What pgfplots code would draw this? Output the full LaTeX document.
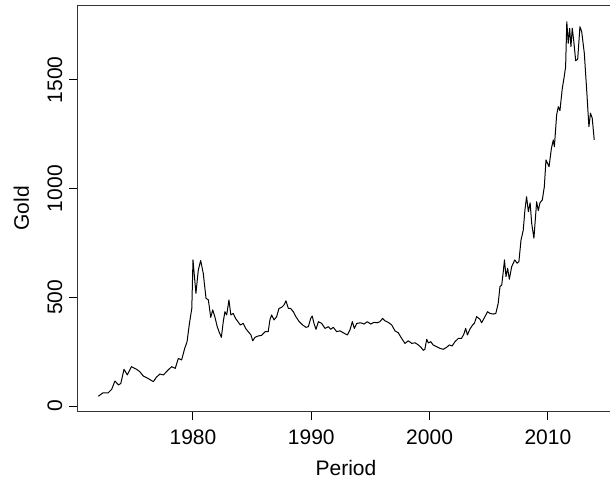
\documentclass[border=0pt]{standalone}
\usepackage{pgfplots}
\pgfplotsset{compat=1.18}
\usepackage{fontspec}
\setmainfont{Liberation Sans}
\pgfplotstableread{
year value
1972.00 45
1972.40 61
1972.84 61
1973.13 77
1973.40 115
1973.70 97
1973.90 104
1974.17 169
1974.45 143
1974.80 181
1975.20 170
1975.50 158
1975.80 138
1976.20 127
1976.65 112
1976.90 132
1977.20 147
1977.50 143
1977.90 166
1978.20 181
1978.50 173
1978.76 219
1979.04 212
1979.30 265
1979.50 296
1979.70 380
1979.90 449
1980.00 672
1980.10 610
1980.25 518
1980.45 626
1980.65 669
1980.87 610
1981.10 496
1981.30 488
1981.50 408
1981.67 442
1981.86 408
1982.05 365
1982.20 342
1982.40 316
1982.56 388
1982.70 434
1982.85 419
1983.04 488
1983.20 419
1983.40 426
1983.60 403
1983.80 388
1984.00 373
1984.25 380
1984.45 357
1984.67 342
1984.90 327
1985.05 300
1985.24 316
1985.50 322
1985.80 325
1986.10 342
1986.36 342
1986.50 396
1986.65 419
1986.85 396
1987.07 411
1987.27 449
1987.50 454
1987.70 465
1987.86 484
1988.06 449
1988.25 449
1988.48 434
1988.70 411
1988.98 388
1989.27 373
1989.55 362
1989.75 365
1989.95 403
1990.08 414
1990.23 380
1990.40 353
1990.60 388
1990.88 380
1991.16 357
1991.44 365
1991.64 353
1991.86 362
1992.15 342
1992.43 346
1992.70 337
1993.05 327
1993.27 350
1993.47 388
1993.64 357
1993.84 380
1994.18 383
1994.46 377
1994.74 388
1995.02 377
1995.30 385
1995.58 383
1995.80 388
1996.03 403
1996.23 392
1996.50 385
1996.80 373
1997.07 346
1997.35 337
1997.64 311
1997.92 288
1998.20 300
1998.50 288
1998.77 291
1999.05 281
1999.27 270
1999.47 256
1999.60 261
1999.76 307
1999.90 290
2000.10 296
2000.30 281
2000.60 273
2000.88 265
2001.16 261
2001.44 270
2001.67 281
2001.90 276
2002.15 296
2002.43 311
2002.70 311
2002.90 331
2003.05 357
2003.20 327
2003.40 353
2003.64 373
2003.78 380
2003.98 411
2004.26 399
2004.40 383
2004.68 411
2004.90 434
2005.10 426
2005.38 423
2005.60 426
2005.80 472
2005.95 549
2006.10 557
2006.23 618
2006.33 672
2006.46 595
2006.60 634
2006.74 583
2006.94 641
2007.20 672
2007.40 657
2007.55 664
2007.73 764
2007.82 785
2007.92 810
2008.06 902
2008.20 963
2008.35 894
2008.50 935
2008.63 841
2008.82 772
2009.05 940
2009.19 899
2009.33 935
2009.53 948
2009.70 1009
2009.84 1132
2010.10 1101
2010.30 1186
2010.46 1224
2010.55 1193
2010.74 1339
2010.88 1377
2011.02 1359
2011.22 1462
2011.38 1515
2011.50 1561
2011.60 1768
2011.72 1669
2011.84 1738
2011.95 1653
2012.06 1738
2012.18 1684
2012.35 1589
2012.52 1595
2012.71 1745
2012.86 1722
2013.08 1623
2013.28 1454
2013.47 1285
2013.60 1347
2013.75 1324
2013.92 1224
}\gold
\begin{document}
\begin{tikzpicture}[font=\fontsize{10.5}{12.6}\selectfont]
\useasboundingbox (-39pt,-33.5pt) rectangle (266pt,205.5pt);
\begin{axis}[
  at={(0,0)}, anchor=south west,
  scale only axis,
  width=268pt, height=202.75pt,
  xmin=1970.28, xmax=2015.59,
  ymin=-23, ymax=1842.7,
  xtick={1980,1990,2000,2010},
  ytick={0,500,1000,1500},
  tick align=outside,
  xtick pos=bottom, ytick pos=left,
  major tick length=4.5pt,
  tick style={black, line width=0.5pt},
  axis line style={line width=0.5pt, black!80},
  /pgf/number format/assume math mode=true,
  /pgf/number format/1000 sep={},
  xticklabel style={anchor=base, yshift=-12pt},
  yticklabel style={xshift=-3.5pt, rotate=90, anchor=base},
  every axis x label/.style={at={(axis description cs:0.5,0)}, yshift=-32pt, anchor=base},
  every axis y label/.style={at={(axis description cs:0,0.5)}, xshift=-24.5pt, rotate=90, anchor=base},
  xlabel={Period},
  ylabel={Gold},
]
\addplot[black, line width=0.5pt, line join=round] table[x=year, y=value] {\gold};
\end{axis}
\end{tikzpicture}
\end{document}
